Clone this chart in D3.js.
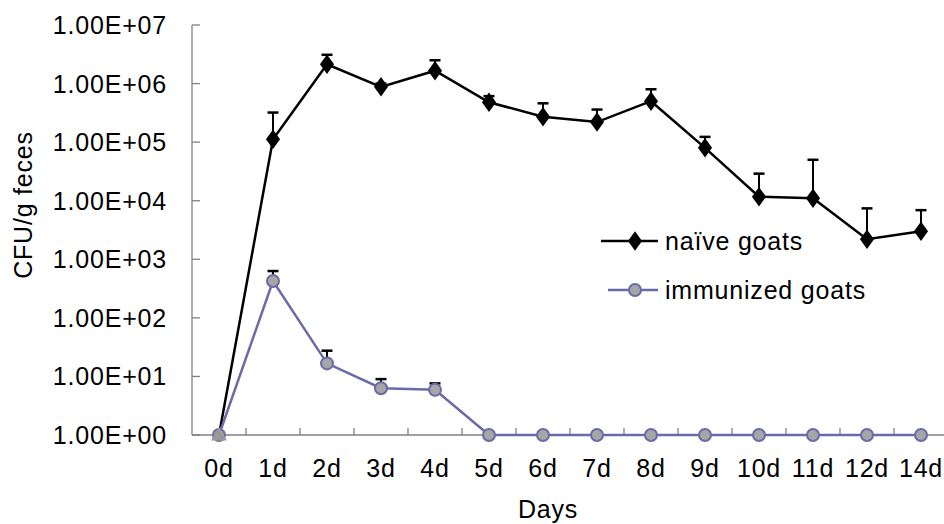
<!DOCTYPE html>
<html>
<head>
<meta charset="utf-8">
<title>CFU/g feces</title>
<script src="https://d3js.org/d3.v7.min.js"></script>
<style>
body { margin:0; background:#fff; }
text { font-family: "Liberation Sans", Arial, sans-serif; fill:#000; }
</style>
</head>
<body>
<div id="chart"></div>
<script>
var days = ["0d","1d","2d","3d","4d","5d","6d","7d","8d","9d","10d","11d","12d","14d"];
var naive = [1, 1.12e5, 2.13e6, 8.8e5, 1.66e6, 4.8e5, 2.72e5, 2.2e5, 5.0e5, 8.0e4, 1.17e4, 1.1e4, 2.2e3, 3.0e3];
var naiveErr = [null, 3.2e5, 3.1e6, 1.0e6, 2.5e6, 6.1e5, 4.6e5, 3.6e5, 8.0e5, 1.23e5, 2.9e4, 5.0e4, 7.4e3, 6.9e3];
var immunized = [1, 426, 16.7, 6.3, 5.9, 1, 1, 1, 1, 1, 1, 1, 1, 1];
var immunizedErr = [null, 630, 27.5, 9.0, 7.6, null, null, null, null, null, null, null, null, null];
var yTicks = [1e0, 1e1, 1e2, 1e3, 1e4, 1e5, 1e6, 1e7];
var seriesNames = ["naïve goats", "immunized goats"];

var width = 944, height = 524;
var x0 = 192, yBottom = 435, yTop = 25;
var purple = "#6a6aa8", grey = "#a6a6a6";
var fs = "25px", ls = "0.8px";

var svg = d3.select("#chart").append("svg")
    .attr("width", width)
    .attr("height", height);

var xs = d3.scaleBand().domain(days).range([x0, x0 + 54 * days.length]);
var ys = d3.scaleLog().domain([1, 1e7]).range([yBottom, yTop]);
var xc = function(d) { return xs(d) + xs.bandwidth() / 2; };

// y axis
svg.append("line")
    .attr("x1", x0).attr("x2", x0)
    .attr("y1", yTop).attr("y2", yBottom)
    .attr("stroke", "#808080").attr("stroke-width", 1.3);
svg.selectAll(".ytick").data(yTicks).enter().append("line")
    .attr("x1", x0).attr("x2", x0 + 8)
    .attr("y1", function(d) { return ys(d); })
    .attr("y2", function(d) { return ys(d); })
    .attr("stroke", "#808080").attr("stroke-width", 1.3);
svg.selectAll(".ylab").data(yTicks).enter().append("text")
    .attr("x", 167)
    .attr("y", function(d) { return ys(d) + 9; })
    .attr("text-anchor", "end")
    .style("font-size", fs)
    .style("letter-spacing", ls)
    .text(function(d) { return "1.00E+" + d3.format("02d")(Math.round(Math.log10(d))); });

// x axis
svg.append("line")
    .attr("x1", x0).attr("x2", width)
    .attr("y1", yBottom).attr("y2", yBottom)
    .attr("stroke", "#808080").attr("stroke-width", 1.3);
svg.selectAll(".xtick").data(days.slice(1)).enter().append("line")
    .attr("x1", function(d) { return xs(d); })
    .attr("x2", function(d) { return xs(d); })
    .attr("y1", yBottom).attr("y2", yBottom - 7)
    .attr("stroke", "#808080").attr("stroke-width", 1.3);
svg.selectAll(".xlab").data(days).enter().append("text")
    .attr("x", function(d) { return xc(d); })
    .attr("y", 477)
    .attr("text-anchor", "middle")
    .style("font-size", fs)
    .style("letter-spacing", ls)
    .text(function(d) { return d; });

svg.append("text")
    .attr("x", 548).attr("y", 518)
    .attr("text-anchor", "middle")
    .style("font-size", fs)
    .style("letter-spacing", ls)
    .text("Days");

svg.append("text")
    .attr("transform", "translate(32,205)rotate(-90)")
    .attr("text-anchor", "middle")
    .style("font-size", fs)
    .style("letter-spacing", ls)
    .text("CFU/g feces");

var line = d3.line()
    .x(function(d, i) { return xc(days[i]); })
    .y(function(d) { return ys(d); });

function errorBars(vals, errs) {
    var g = svg.append("g");
    days.forEach(function(d, i) {
        if (errs[i] == null) return;
        g.append("line")
            .attr("x1", xc(d)).attr("x2", xc(d))
            .attr("y1", ys(vals[i])).attr("y2", ys(errs[i]))
            .attr("stroke", "#000").attr("stroke-width", 2);
        g.append("line")
            .attr("x1", xc(d) - 5.5).attr("x2", xc(d) + 5.5)
            .attr("y1", ys(errs[i])).attr("y2", ys(errs[i]))
            .attr("stroke", "#000").attr("stroke-width", 2.5);
    });
}

errorBars(naive, naiveErr);
errorBars(immunized, immunizedErr);

// naive line + diamonds
svg.append("path").datum(naive)
    .attr("d", line)
    .attr("fill", "none")
    .attr("stroke", "#000").attr("stroke-width", 2.5);
var diamond = d3.symbol().type(d3.symbolDiamond).size(110);
svg.selectAll(".dia").data(naive.slice(1)).enter().append("path")
    .attr("d", diamond)
    .attr("transform", function(d, i) { return "translate(" + xc(days[i + 1]) + "," + ys(d) + ")scale(1.25,1)"; })
    .attr("fill", "#000");

// immunized line + circles
svg.append("path").datum(immunized)
    .attr("d", line)
    .attr("fill", "none")
    .attr("stroke", purple).attr("stroke-width", 2.5);
svg.selectAll(".circ").data(immunized).enter().append("circle")
    .attr("cx", function(d, i) { return xc(days[i]); })
    .attr("cy", function(d) { return ys(d); })
    .attr("r", 6)
    .attr("fill", grey)
    .attr("stroke", purple).attr("stroke-width", 2);
// naive 0d marker (grey triangle over the circle)
svg.append("path")
    .attr("d", d3.symbol().type(d3.symbolTriangle).size(110))
    .attr("transform", "translate(" + xc(days[0]) + "," + (ys(naive[0]) + 1) + ")")
    .attr("fill", "#999");

// legend
var legend = svg.append("g");
var legY = [241, 290];
legend.append("line").attr("x1", 601).attr("x2", 658).attr("y1", legY[0]).attr("y2", legY[0])
    .attr("stroke", "#000").attr("stroke-width", 2.5);
legend.append("path").attr("d", diamond)
    .attr("transform", "translate(635," + legY[0] + ")scale(1.25,1)")
    .attr("fill", "#000");
legend.append("line").attr("x1", 608).attr("x2", 658).attr("y1", legY[1]).attr("y2", legY[1])
    .attr("stroke", purple).attr("stroke-width", 2.5);
legend.append("circle").attr("cx", 635).attr("cy", legY[1]).attr("r", 6)
    .attr("fill", grey).attr("stroke", purple).attr("stroke-width", 2);
legend.selectAll("text").data(seriesNames).enter().append("text")
    .attr("x", 665)
    .attr("y", function(d, i) { return legY[i] + 9; })
    .style("font-size", fs)
    .style("letter-spacing", ls)
    .text(function(d) { return d; });
</script>
</body>
</html>
